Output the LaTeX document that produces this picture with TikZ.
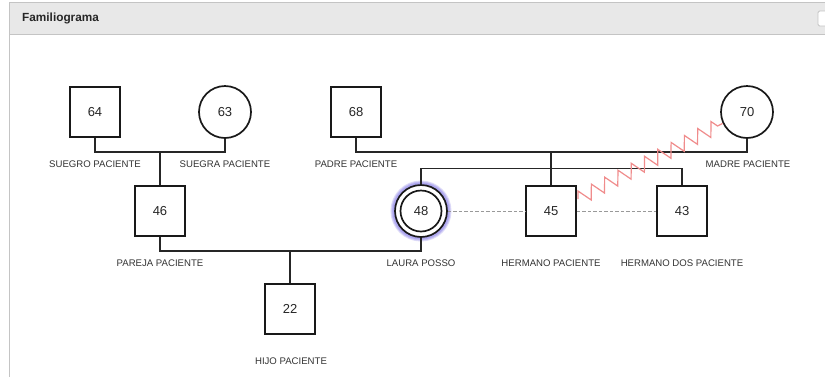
\documentclass[tikz,border=0pt]{standalone}
\usepackage{fontspec}
\setmainfont{Liberation Sans}
\usetikzlibrary{decorations.pathmorphing}
\definecolor{hdr}{HTML}{E8E8E8}
\definecolor{bord}{HTML}{C4C4C4}
\definecolor{txt}{HTML}{333333}
\definecolor{zig}{HTML}{F08C8C}
\definecolor{glow}{HTML}{5A4BE0}
\tikzset{
  male/.style={draw=black!90, line width=1.7pt, minimum size=50pt, inner sep=0pt, fill=white, font=\fontsize{13}{13}\selectfont, text=black!85},
  female/.style={draw=black!90, line width=1.7pt, circle, minimum size=52pt, inner sep=0pt, fill=white, font=\fontsize{13}{13}\selectfont, text=black!85},
  lbl/.style={font=\fontsize{9.6}{9.6}\selectfont, text=txt, inner sep=0pt},
  link/.style={draw=black!85, line width=1.5pt},
  dashlink/.style={draw=gray!80, line width=1pt, dash pattern=on 3.5pt off 2pt},
}
\begin{document}
\begin{tikzpicture}[x=1pt,y=-1pt]
\useasboundingbox (0,0) rectangle (825,376);
% panel
\fill[white] (0,0) rectangle (825,376);
\draw[bord, line width=0.8pt, fill=hdr] (9,2.5) -- (826,2.5) -- (826,34) -- (9,34) -- cycle;
\draw[bord, line width=0.8pt] (9,34) -- (9,377);
\node[anchor=west, inner sep=0pt, font=\bfseries\fontsize{11.8}{11.8}\selectfont, text=black!85] (title) at (22,18.5) {Familiograma};
\draw[bord, line width=0.8pt, fill=white, rounded corners=1.5pt] (818,11) rectangle (830,26);
\node (btn) at (821,18.5) {};
% glow behind 48
\foreach \w in {8,6,4}{
  \draw[glow, opacity=0.2, line width=\w pt] (421,211) circle (26.5pt);
}
% nodes
\node[male] (s64) at (95,112) {64};
\node[female] (s63) at (225,112) {63};
\node[male] (s68) at (356,112) {68};
\node[female] (s70) at (747,112) {70};
\node[male] (s46) at (160,211) {46};
\node[female, minimum size=52pt] (s48) at (421,211) {};
\node[circle, draw=black!90, line width=1.7pt, minimum size=41pt, inner sep=0pt, font=\fontsize{13}{13}\selectfont, text=black!85] (s48in) at (421,211) {48};
\node[male] (s45) at (551,211) {45};
\node[male] (s43) at (682,211) {43};
\node[male] (s22) at (290,309) {22};
% labels
\node[lbl] (l64) at (95,164) {SUEGRO PACIENTE};
\node[lbl] (l63) at (225,164) {SUEGRA PACIENTE};
\node[lbl] (l68) at (356,164) {PADRE PACIENTE};
\node[lbl] (l70) at (748,164) {MADRE PACIENTE};
\node[lbl] (l46) at (160,263) {PAREJA PACIENTE};
\node[lbl] (l48) at (421,263) {LAURA POSSO};
\node[lbl] (l45) at (551,263) {HERMANO PACIENTE};
\node[lbl] (l43) at (682,263) {HERMANO DOS PACIENTE};
\node[lbl] (l22) at (291,361) {HIJO PACIENTE};
% coordinates
\coordinate (c1) at (160,152);
\coordinate (c2) at (551,152);
\coordinate (sib) at (551,170);
\coordinate (c3) at (290,250);
\coordinate (z1) at (578,199);
% connectors
\draw[link] (s64.south) -- ++(0,14) -| (s63.south);
\draw[link] (c1) -- (s46.north);
\draw[link] (s68.south) -- ++(0,14) -| (s70.south);
\draw[link] (c2) -- (sib);
\draw[link] (s48.north) -- ++(0,-15.5) -| (s43.north);
\draw[link] (sib) -- (s45.north);
\draw[link] (s46.south) -- ++(0,14) -| (s48.south);
\draw[link] (c3) -- (s22.north);
\draw[dashlink] (s48.east) -- (s45.west);
\draw[dashlink] (s45.east) -- (s43.west);
\draw[zig, line width=1.2pt, decorate, decoration={zigzag, segment length=15pt, amplitude=7pt}] (z1) -- (s70.205);
\end{tikzpicture}
\end{document}
